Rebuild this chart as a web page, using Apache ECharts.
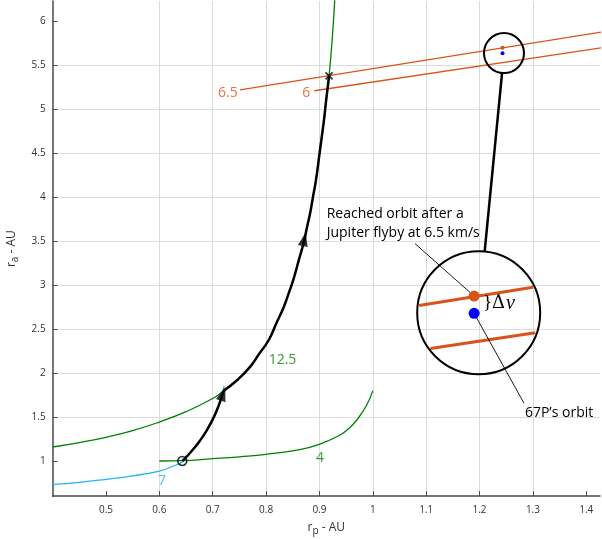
<!DOCTYPE html>
<html><head><meta charset="utf-8">
<script src="https://cdn.jsdelivr.net/npm/echarts@6/dist/echarts.min.js"></script>
<style>html,body{margin:0;padding:0;background:#fff;overflow:hidden}#c{width:602px;height:539px}</style>
</head><body><div id="c"></div>
<script>
// ---- tick labels ----
const xTicks = [0.5,0.6,0.7,0.8,0.9,1.0,1.1,1.2,1.3,1.4];
const yTicks = [1,1.5,2,2.5,3,3.5,4,4.5,5,5.5,6];

// ---- curves (rp, ra) ----
const curve12_5 = [[0.40,1.159],[0.45,1.21],[0.50,1.269],[0.55,1.345],[0.60,1.443],[0.65,1.56],[0.70,1.71],[0.72,1.795],[0.746,1.92],[0.77,2.07],[0.7873,2.22],[0.805,2.375],[0.8189,2.56],[0.8334,2.753],[0.842,2.90],[0.851,3.057],[0.8603,3.26],[0.8703,3.477],[0.8765,3.65],[0.8826,3.818],[0.8879,4.0],[0.8935,4.193],[0.9003,4.5],[0.9085,4.875],[0.9126,5.1],[0.918,5.375],[0.924,5.8],[0.9287,6.24]];
const curve4 = [[0.60,1.0],[0.643,1.004],[0.70,1.026],[0.75,1.048],[0.80,1.076],[0.863,1.13],[0.901,1.193],[0.939,1.296],[0.955,1.37],[0.970,1.466],[0.9886,1.636],[1.0,1.80]];
const curve7 = [[0.40,0.735],[0.45,0.758],[0.50,0.792],[0.55,0.832],[0.60,0.886],[0.626,0.943],[0.643,0.99],[0.652,1.055],[0.663,1.13],[0.676,1.23],[0.69,1.36],[0.703,1.51],[0.713,1.66],[0.7213,1.85]];
const line6_5 = [[0.7511,5.216],[1.43,5.876]];
const line6 = [[0.8904,5.207],[1.43,5.697]];
const trajectoryLeg1 = [[0.643,1.0],[0.652,1.055],[0.663,1.13],[0.676,1.23],[0.69,1.36],[0.703,1.51],[0.713,1.66],[0.72,1.795]];
const startPoint = [0.643, 1.0];
const flybyPoint = [0.918, 5.375];
const trajectoryLeg2 = curve12_5.filter(p => p[0] >= 0.72 && p[0] <= flybyPoint[0]);
const arrowPoints = [[0.7193,1.762],[0.8715,3.52]];
const arrowAngles = [-19,-12];

// ---- curve labels ----
const labelNames = ['12.5','4','7','6.5','6'];
const labelX = [0.8308,0.901,0.605,0.7283,0.8754];
const labelY = [2.148,1.0375,0.773,5.178,5.178];

// ---- annotation anchors ----
const reachedOrbit = [1.243, 5.697];
const orbit67P = [1.243, 5.633];
const zoomCenter = [1.2458, 5.635];
const insetCenter = [1.1984, 2.684];
const reachedText = 'Reached orbit after a\nJupiter flyby at 6.5 km/s';
const reachedTextPos = [0.9136, 3.695];
const reachedLeaderStart = [1.079, 3.47];
const p67Text = '67P\u2019s orbit';
const p67TextPos = [1.285, 1.549];
const p67LeaderEnd = [1.2833, 1.656];

const GREEN = '#008000', CYAN = '#22b5f0', ORANGE = '#D95319', BLUE = '#0000FF';
const labelColors = [GREEN, GREEN, CYAN, ORANGE, ORANGE];
const ZOOM_R = 20, INSET_R = 61.5;
const FONT = '"Open Sans", "Noto Sans", sans-serif';

function clipToCircle(p, q, c, R) {
  const dx = q[0]-p[0], dy = q[1]-p[1];
  const fx = p[0]-c[0], fy = p[1]-c[1];
  const a = dx*dx+dy*dy, b = 2*(fx*dx+fy*dy), cc = fx*fx+fy*fy-R*R;
  const disc = b*b-4*a*cc; if (disc < 0) return null;
  const s = Math.sqrt(disc), t1 = (-b-s)/(2*a), t2 = (-b+s)/(2*a);
  return {x1:p[0]+t1*dx, y1:p[1]+t1*dy, x2:p[0]+t2*dx, y2:p[1]+t2*dy};
}

function renderAnnot(params, api) {
  const c = p => api.coord(p);
  const sc = c(zoomCenter), bc = c(insetCenter);
  const k = INSET_R / ZOOM_R;
  const mag = p => { const q = c(p); return [bc[0]+(q[0]-sc[0])*k, bc[1]+(q[1]-sc[1])*k]; };
  const dx = bc[0]-sc[0], dy = bc[1]-sc[1], L = Math.hypot(dx,dy), ux = dx/L, uy = dy/L;
  const ch = [];
  ch.push({type:'line', shape:{x1:sc[0]+ux*ZOOM_R, y1:sc[1]+uy*ZOOM_R, x2:bc[0]-ux*INSET_R, y2:bc[1]-uy*INSET_R}, style:{stroke:'#000', lineWidth:2.5}});
  const ro = c(reachedOrbit), po = c(orbit67P);
  ch.push({type:'circle', shape:{cx:ro[0], cy:ro[1], r:2}, style:{fill:ORANGE}});
  ch.push({type:'circle', shape:{cx:po[0], cy:po[1], r:2}, style:{fill:BLUE}});
  ch.push({type:'circle', shape:{cx:sc[0], cy:sc[1], r:ZOOM_R}, style:{fill:'none', stroke:'#000', lineWidth:2}});
  [line6_5, line6].forEach(ln => {
    const s = clipToCircle(mag(ln[0]), mag(ln[1]), bc, INSET_R-1.5);
    if (s) ch.push({type:'line', shape:s, style:{stroke:ORANGE, lineWidth:3}});
  });
  const mro = mag(reachedOrbit), mpo = mag(orbit67P);
  const rs = c(reachedLeaderStart), pe = c(p67LeaderEnd);
  ch.push({type:'line', shape:{x1:rs[0], y1:rs[1], x2:mro[0], y2:mro[1]}, style:{stroke:'#000', lineWidth:0.9}});
  ch.push({type:'line', shape:{x1:mpo[0], y1:mpo[1], x2:pe[0], y2:pe[1]}, style:{stroke:'#000', lineWidth:0.9}});
  ch.push({type:'circle', shape:{cx:bc[0], cy:bc[1], r:INSET_R}, style:{fill:'none', stroke:'#000', lineWidth:2}});
  ch.push({type:'circle', shape:{cx:mro[0], cy:mro[1], r:5.5}, style:{fill:ORANGE}});
  ch.push({type:'circle', shape:{cx:mpo[0], cy:mpo[1], r:5.5}, style:{fill:BLUE}});
  const midY = (mro[1]+mpo[1])/2;
  ch.push({type:'text', x:mro[0]+9, y:midY-2, style:{text:'}', font:'19px "Liberation Serif", serif', fill:'#000', align:'left', verticalAlign:'middle'}});
  ch.push({type:'text', x:mro[0]+18, y:midY-1, style:{text:'\u0394', font:'18px "DejaVu Serif", serif', fill:'#000', align:'left', verticalAlign:'middle'}});
  ch.push({type:'text', x:mro[0]+32, y:midY-1, style:{text:'v', font:'italic 20px "Liberation Serif", serif', fill:'#000', align:'left', verticalAlign:'middle'}});
  const rt = c(reachedTextPos), pt = c(p67TextPos);
  ch.push({type:'text', x:rt[0], y:rt[1], style:{text:reachedText, font:'14px '+FONT, lineHeight:19, fill:'#000', align:'left', verticalAlign:'middle'}});
  ch.push({type:'text', x:pt[0], y:pt[1], style:{text:p67Text, font:'14px '+FONT, fill:'#000', align:'left', verticalAlign:'middle'}});
  return {type:'group', children:ch};
}

const near = (v, arr) => arr.some(t => Math.abs(t - v) < 1e-6);
const axisCommon = {
  type:'value',
  axisLine:{show:true, onZero:false, lineStyle:{color:'#4a4a4a', width:1.5}},
  axisTick:{show:true, inside:true, length:5, lineStyle:{color:'#4a4a4a', width:1}},
  splitLine:{show:true, showMinLine:false, showMaxLine:false, lineStyle:{color:'#dcdcdc', width:1}},
  nameLocation:'middle'
};
const nameRich = {
  r:{fontSize:12, fontFamily:FONT, color:'#333', lineHeight:18, verticalAlign:'middle'},
  s:{fontSize:10, fontFamily:FONT, color:'#333', lineHeight:9, verticalAlign:'bottom'},
  n:{fontSize:12, fontFamily:FONT, color:'#333', lineHeight:18, verticalAlign:'middle'}
};

const chart = echarts.init(document.getElementById('c'));
chart.setOption({
  animation:false,
  backgroundColor:'#fff',
  grid:{left:52.6, right:2, top:1, bottom:42.8, containLabel:false, outerBoundsMode:'none'},
  xAxis:Object.assign({}, axisCommon, {
    min:0.4, max:1.4257, interval:0.1,
    axisLabel:{customValues:xTicks, margin:9, fontSize:10, color:'#333', fontFamily:FONT,
      formatter:v => near(v, xTicks) ? String(+v.toFixed(2)) : ''},
    axisTick:Object.assign({}, axisCommon.axisTick, {customValues:xTicks}),
    name:'{r|r}{s|p}{n| - AU}', nameGap:22,
    nameTextStyle:{fontFamily:FONT, color:'#333', rich:nameRich}
  }),
  yAxis:Object.assign({}, axisCommon, {
    min:0.6, max:6.227, splitNumber:11,
    axisLabel:{customValues:yTicks, margin:7, fontSize:10, color:'#333', fontFamily:FONT,
      formatter:v => near(v, yTicks) ? String(+v.toFixed(2)) : ''},
    axisTick:Object.assign({}, axisCommon.axisTick, {customValues:yTicks}),
    name:'{r|r}{s|a}{n| - AU}', nameGap:23,
    nameTextStyle:{fontFamily:FONT, color:'#333', rich:nameRich}
  }),
  series:[
    {type:'line', data:curve12_5, showSymbol:false, smooth:0.5, lineStyle:{color:GREEN, width:1.3}, z:2},
    {type:'line', data:curve4, showSymbol:false, smooth:0.5, lineStyle:{color:GREEN, width:1.3}, z:2},
    {type:'line', data:curve7, showSymbol:false, smooth:0.5, lineStyle:{color:CYAN, width:1.3}, z:2},
    {type:'line', data:line6_5, showSymbol:false, lineStyle:{color:ORANGE, width:1.3}, z:2},
    {type:'line', data:line6, showSymbol:false, lineStyle:{color:ORANGE, width:1.3}, z:2},
    {type:'line', data:trajectoryLeg1, showSymbol:false, smooth:0.5, lineStyle:{color:'#000', width:2.5}, z:3},
    {type:'line', data:trajectoryLeg2, showSymbol:false, smooth:0.5, lineStyle:{color:'#000', width:2.5}, z:3},
    {type:'scatter', data:[startPoint], symbol:'circle', symbolSize:9,
      itemStyle:{color:'rgba(0,0,0,0)', borderColor:'#000', borderWidth:1.6}, z:4},
    {type:'scatter', data:[flybyPoint], symbol:'path://M0 0L10 10M10 0L0 10', symbolSize:7,
      itemStyle:{color:'rgba(0,0,0,0)', borderColor:'#000', borderWidth:1.8}, z:4},
    {type:'scatter', data:arrowPoints.map((p,i) => ({value:p, symbolRotate:arrowAngles[i]})),
      symbol:'triangle', symbolSize:[10,14], itemStyle:{color:'#000'}, z:4},
    {type:'scatter', symbolSize:0, z:5,
      data:labelNames.map((n,i) => ({name:n, value:[labelX[i], labelY[i]], label:{color:labelColors[i]}})),
      label:{show:true, position:'inside', formatter:'{b}', fontSize:14, fontFamily:FONT}},
    {type:'custom', coordinateSystem:'cartesian2d', data:[zoomCenter], renderItem:renderAnnot, clip:false, silent:true, z:6}
  ]
});
</script></body></html>
